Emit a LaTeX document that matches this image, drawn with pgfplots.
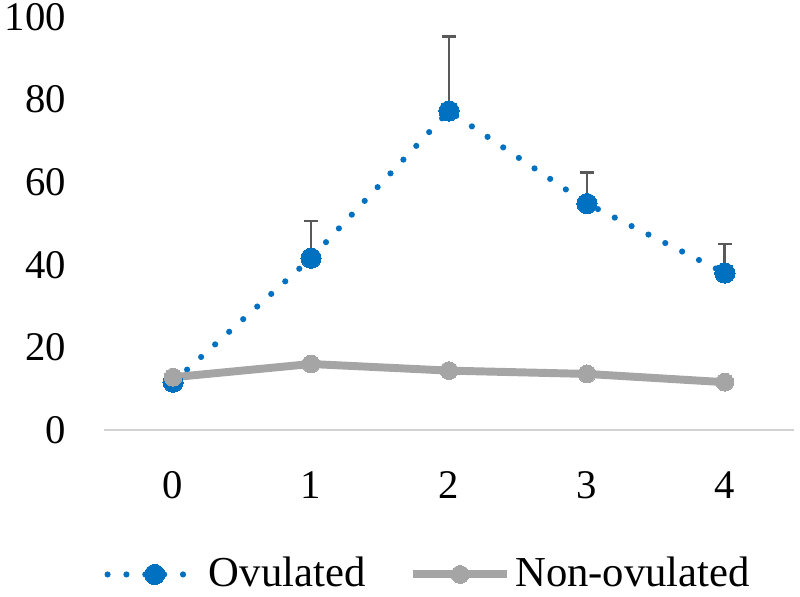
\documentclass[border=0pt]{standalone}
\usepackage{fontspec}
\setmainfont{Liberation Serif}
\usepackage{pgfplots}
\pgfplotsset{compat=1.18}
\definecolor{ovblue}{HTML}{0070C0}
\definecolor{novgray}{HTML}{A5A5A5}
\definecolor{errgray}{HTML}{595959}
\begin{document}
\fontsize{20}{24}\selectfont
\begin{tikzpicture}
\begin{axis}[
  scale only axis, width=347.5pt, height=208.3pt,
  xmin=-0.5, xmax=4.5, ymin=0, ymax=100,
  xtick={0,1,2,3,4}, ytick={0,20,40,60,80,100},
  axis x line*=bottom, axis y line*=left,
  y axis line style={draw=none},
  x axis line style={draw=gray!35, line width=1.2pt},
  major tick length=0pt,
  tick label style={font=\fontsize{20.5}{24}\selectfont, inner sep=0pt},
  /pgf/number format/assume math mode=true,
  y tick label style={xshift=-19pt},
  x tick label style={yshift=-20.5pt},
  legend columns=2,
  legend style={at={(axis description cs:0.0,-0.349)}, anchor=west, draw=none, fill=none, inner sep=0pt,
    font=\fontsize{21.5}{24}\selectfont,
    nodes={inner xsep=2pt, inner ysep=0pt},
    /tikz/every even column/.append style={column sep=20pt}},
  legend image code/.code={\draw[mark repeat=2,mark phase=2,#1] plot coordinates {(0pt,0pt) (23.75pt,0pt) (47.5pt,0pt)};},
]
% error bars (drawn beneath the markers)
\addplot[draw=none, mark=none, forget plot,
  error bars/.cd, y dir=plus, y explicit,
  error bar style={draw=errgray, line width=1.4pt, solid},
  error mark options={draw=errgray, line width=1.4pt, mark size=3.5pt, rotate=90}]
  coordinates {(1,41.6) +- (0,9.0) (2,77.2) +- (0,18.0) (3,54.8) +- (0,7.6) (4,38.0) +- (0,7.0)};
\addplot[ovblue, line width=3.1pt, line cap=round, dash pattern=on 0pt off 9.5pt,
  mark=*, mark size=5.1pt, mark options={solid, fill=ovblue, draw=ovblue, line width=0pt}]
  coordinates {(0,11.6) (1,41.6) (2,77.2) (3,54.8) (4,38.0)};
\addlegendentry{Ovulated}
\addplot[novgray, line width=4pt, line join=round,
  mark=*, mark size=4.5pt, mark options={solid, fill=novgray, draw=novgray, line width=0pt}]
  coordinates {(0,12.8) (1,16.0) (2,14.4) (3,13.6) (4,11.6)};
\addlegendentry{Non-ovulated}
\end{axis}
\path ([xshift=-2.5pt,yshift=1.5pt]current bounding box.north west);
\path ([xshift=2.5pt,yshift=-2pt]current bounding box.south east);
\end{tikzpicture}
\end{document}
